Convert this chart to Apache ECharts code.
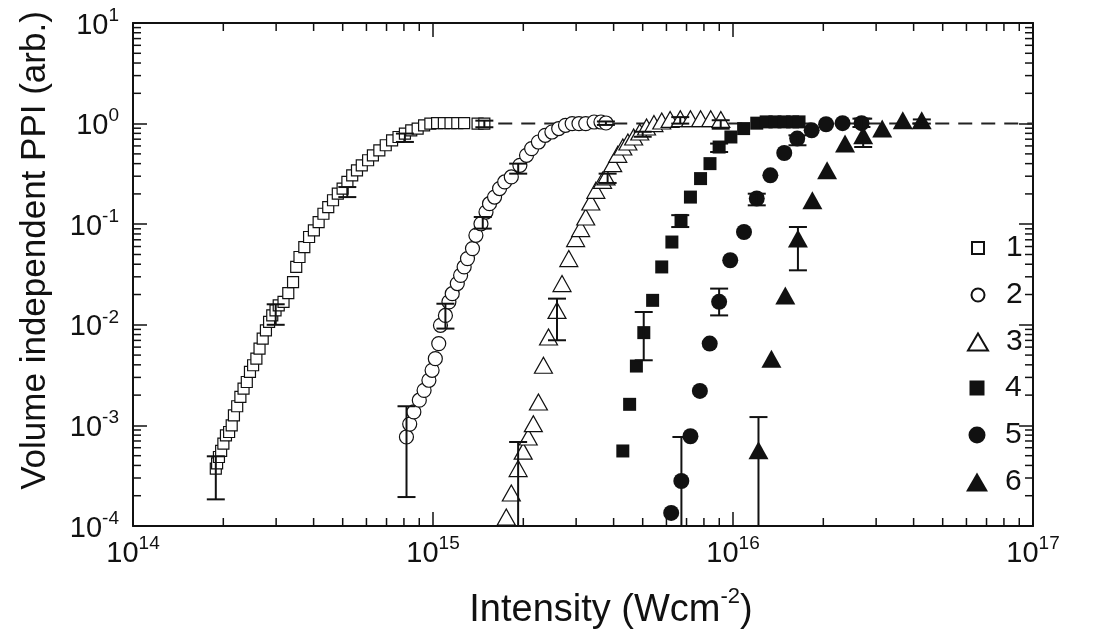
<!DOCTYPE html>
<html>
<head>
<meta charset="utf-8">
<script src="https://cdn.jsdelivr.net/npm/echarts@6/dist/echarts.min.js"></script>
<style>html,body{margin:0;padding:0;background:#fff;}#c{width:1102px;height:634px;}</style>
</head>
<body>
<div id="c"></div>
<script>
// ---- data (Intensity in W/cm^2, PPI in arb. units) ----
const names = ['1', '2', '3', '4', '5', '6'];

const series1 = [[1.888e14,3.72e-4],[1.907e14,4.20e-4],[1.934e14,4.85e-4],[1.967e14,5.57e-4],[2.001e14,6.59e-4],[2.041e14,7.97e-4],[2.091e14,8.60e-4],[2.133e14,1.00e-3],[2.170e14,1.26e-3],[2.225e14,1.55e-3],[2.280e14,1.92e-3],[2.336e14,2.32e-3],[2.395e14,2.70e-3],[2.454e14,3.40e-3],[2.514e14,3.96e-3],[2.578e14,4.61e-3],[2.641e14,5.80e-3],[2.706e14,7.29e-3],[2.774e14,8.82e-3],[2.842e14,1.07e-2],[2.912e14,1.24e-2],[2.986e14,1.39e-2],[3.060e14,1.56e-2],[3.175e14,1.69e-2],[3.293e14,2.06e-2],[3.416e14,2.66e-2],[3.500e14,3.76e-2],[3.589e14,4.72e-2],[3.724e14,5.93e-2],[3.863e14,7.46e-2],[4.008e14,8.70e-2],[4.157e14,0.105],[4.313e14,0.127],[4.475e14,0.148],[4.642e14,0.173],[4.816e14,0.201],[4.997e14,0.226],[5.184e14,0.263],[5.379e14,0.306],[5.580e14,0.343],[5.789e14,0.385],[6.077e14,0.432],[6.305e14,0.484],[6.624e14,0.543],[6.958e14,0.609],[7.305e14,0.682],[7.674e14,0.736],[8.061e14,0.796],[8.462e14,0.858],[8.889e14,0.892],[9.339e14,0.962],[9.80e14,1.0],[1.032e15,1.01],[1.087e15,1.01],[1.144e15,1.01],[1.205e15,1.01],[1.270e15,1.01],[1.408e15,1.0],[1.483e15,1.0]];

const series2 = [[8.156e14,7.67e-4],[8.363e14,1.03e-3],[8.632e14,1.36e-3],[9.002e14,1.78e-3],[9.339e14,2.23e-3],[9.69e14,2.81e-3],[9.93e14,3.53e-3],[1.018e15,4.61e-3],[1.045e15,6.50e-3],[1.059e15,9.89e-3],[1.100e15,1.24e-2],[1.130e15,1.69e-2],[1.159e15,2.04e-2],[1.205e15,2.57e-2],[1.236e15,3.10e-2],[1.270e15,3.76e-2],[1.303e15,4.55e-2],[1.354e15,5.72e-2],[1.390e15,7.76e-2],[1.445e15,0.101],[1.502e15,0.132],[1.543e15,0.160],[1.604e15,0.186],[1.667e15,0.226],[1.734e15,0.263],[1.824e15,0.295],[1.948e15,0.385],[2.050e15,0.484],[2.132e15,0.564],[2.246e15,0.656],[2.366e15,0.765],[2.491e15,0.825],[2.624e15,0.892],[2.764e15,0.962],[2.910e15,1.0],[3.066e15,1.0],[3.229e15,1.0],[3.444e15,1.037],[3.630e15,1.037],[3.773e15,1.014]];

const series3 = [[1.755e15,1.23e-4],[1.824e15,2.13e-4],[1.922e15,3.72e-4],[1.998e15,5.55e-4],[2.077e15,7.67e-4],[2.160e15,1.04e-3],[2.246e15,1.71e-3],[2.334e15,3.96e-3],[2.427e15,7.57e-3],[2.590e15,1.39e-2],[2.692e15,2.57e-2],[2.836e15,4.55e-2],[2.988e15,7.19e-2],[3.106e15,9.04e-2],[3.229e15,0.118],[3.357e15,0.166],[3.490e15,0.217],[3.674e15,0.273],[3.773e15,0.295],[3.972e15,0.400],[4.129e15,0.495],[4.293e15,0.585],[4.463e15,0.656],[4.665e15,0.736],[4.889e15,0.825],[5.150e15,0.925],[5.451e15,1.0],[5.787e15,1.06],[6.172e15,1.10],[6.674e15,1.12],[7.213e15,1.12],[7.796e15,1.12],[8.427e15,1.12],[9.108e15,1.10]];

const series4 = [[4.293e15,5.57e-4],[4.523e15,1.62e-3],[4.764e15,3.89e-3],[5.043e15,8.36e-3],[5.396e15,1.75e-2],[5.787e15,3.76e-2],[6.256e15,6.65e-2],[6.710e15,0.109],[7.213e15,0.186],[7.796e15,0.284],[8.381e15,0.400],[8.990e15,0.585],[9.84e15,0.736],[1.085e16,0.892],[1.200e16,1.01],[1.29e16,1.04],[1.38e16,1.04],[1.48e16,1.04],[1.58e16,1.04],[1.66e16,1.04]];

const series5 = [[6.222e15,1.35e-4],[6.726e15,2.80e-4],[7.213e15,7.80e-4],[7.755e15,2.20e-3],[8.363e15,6.50e-3],[8.990e15,1.69e-2],[9.79e15,4.38e-2],[1.088e16,8.36e-2],[1.200e16,0.180],[1.332e16,0.306],[1.482e16,0.510],[1.637e16,0.709],[1.829e16,0.858],[2.043e16,0.985],[2.319e16,1.01],[2.683e16,1.01]];

const series6 = [[1.216e16,5.65e-4],[1.343e16,4.61e-3],[1.494e16,1.96e-2],[1.646e16,7.19e-2],[1.839e16,0.173],[2.059e16,0.343],[2.363e16,0.633],[2.716e16,0.765],[3.143e16,0.892],[3.681e16,1.08],[4.256e16,1.08]];

// error bars: [intensity, low, high]
const errors1 = [[1.888e14,1.84e-4,4.93e-4],[2.99e14,1.0e-2,1.6e-2],[5.18e14,0.186,0.234],[8.06e14,0.657,0.796],[1.483e15,0.92,1.07]];
const errors2 = [[8.16e14,1.94e-4,1.55e-3],[1.10e15,9.17e-3,1.62e-2],[1.465e15,0.0904,0.118],[1.923e15,0.318,0.40],[3.77e15,0.97,1.05]];
const errors3 = [[1.922e15,1e-4,6.84e-4],[2.59e15,7.02e-3,1.82e-2],[3.82e15,0.257,0.318],[5.0e15,0.74,0.83],[6.67e15,1.0,1.16],[9.1e15,0.89,1.08]];
const errors4 = [[5.04e15,4.44e-3,1.34e-2],[6.67e15,0.0937,0.123],[8.99e15,0.522,0.633]];
const errors5 = [[6.73e15,1e-4,7.67e-4],[8.99e15,1.24e-2,2.29e-2],[1.2e16,0.154,0.201],[1.64e16,0.609,0.765],[2.68e16,0.925,1.12]];
const errors6 = [[1.216e16,1e-4,1.21e-3],[1.646e16,3.48e-2,9.38e-2],[2.716e16,0.585,1.12],[4.26e16,1.0,1.1]];

// saturation reference (dashed) line
const saturationLine = [[1.65e15,1],[1e17,1]];

// axis ranges
const xRange = [1e14, 1e17];
const yRange = [1e-4, 1e1];

// ---- styles ----
const symbols = ['rect','circle','triangle','rect','circle','triangle'];
const symbolSizes = [11, 14, [18,16], 13, 16, [20,18]];
const hollow = [true, true, true, false, false, false];
const legendSizes = [[12,12], [13,13], [20,17], [15,15], [17,17], [22,19]];
const legendRows = [248, 295, 342, 388, 435, 482];
const allData = [series1, series2, series3, series4, series5, series6];
const allErrors = [errors1, errors2, errors3, errors4, errors5, errors6];

const FONT = '"Liberation Sans", Arial, Helvetica, sans-serif';
const INK = '#111';

function expLabel(v) {
  const e = Math.round(Math.log10(v));
  return '{b|10}{s|' + e + '}';
}
const labelRich = {
  b: {fontSize: 29, lineHeight: 34, verticalAlign: 'bottom', color: INK, fontFamily: FONT},
  s: {fontSize: 19, lineHeight: 34, verticalAlign: 'top', color: INK, fontFamily: FONT}
};

// minor tick values 2..9 x 10^n
const minorTicks = [];
for (let n = 14; n < 17; n++) for (let m = 2; m <= 9; m++) minorTicks.push([m * Math.pow(10, n), 1, 0]);
for (let n = -4; n < 1; n++) for (let m = 2; m <= 9; m++) minorTicks.push([1e15, m * Math.pow(10, n), 1]);

function renderMinor(params, api) {
  const t = api.value(2);
  const L = 8;
  const st = {stroke: INK, lineWidth: 1.5};
  if (t === 0) {
    const v = api.value(0);
    const b = api.coord([v, yRange[0]]);
    const tp = api.coord([v, yRange[1]]);
    return {type: 'group', children: [
      {type: 'line', shape: {x1: b[0], y1: b[1], x2: b[0], y2: b[1] - L}, style: st},
      {type: 'line', shape: {x1: tp[0], y1: tp[1], x2: tp[0], y2: tp[1] + L}, style: st}
    ]};
  } else {
    const v = api.value(1);
    const l = api.coord([xRange[0], v]);
    const r = api.coord([xRange[1], v]);
    return {type: 'group', children: [
      {type: 'line', shape: {x1: l[0], y1: l[1], x2: l[0] + L, y2: l[1]}, style: st},
      {type: 'line', shape: {x1: r[0], y1: r[1], x2: r[0] - L, y2: r[1]}, style: st}
    ]};
  }
}

function renderErr(params, api) {
  const x = api.value(0), lo = api.value(1), hi = api.value(2);
  const pl = api.coord([x, lo]);
  const ph = api.coord([x, hi]);
  const hw = 9;
  const st = {stroke: INK, lineWidth: 2};
  const ch = [
    {type: 'line', shape: {x1: pl[0], y1: pl[1], x2: ph[0], y2: ph[1]}, style: st},
    {type: 'line', shape: {x1: ph[0] - hw, y1: ph[1], x2: ph[0] + hw, y2: ph[1]}, style: st}
  ];
  if (lo > yRange[0]) ch.push({type: 'line', shape: {x1: pl[0] - hw, y1: pl[1], x2: pl[0] + hw, y2: pl[1]}, style: st});
  return {type: 'group', children: ch};
}

const axisLineStyle = {lineStyle: {color: INK, width: 2}};
const majorTick = {show: true, inside: true, length: 14, lineStyle: {color: INK, width: 1.5}};

const series = [];
series.push({
  type: 'line', data: saturationLine, symbol: 'none', silent: true, z: 1,
  lineStyle: {color: '#222', width: 2, type: [14, 9]}, animation: false
});
allData.forEach((d, i) => {
  series.push({
    name: names[i], type: 'scatter', data: d, symbol: symbols[i], symbolSize: symbolSizes[i], z: 3,
    itemStyle: hollow[i] ? {color: '#fff', borderColor: INK, borderWidth: 1.2, opacity: 1}
                         : {color: INK, borderColor: INK, borderWidth: 0, opacity: 1},
    emphasis: {disabled: true}
  });
});
series.push({
  type: 'custom', renderItem: renderErr, data: [].concat(...allErrors), z: 4, silent: true,
  encode: {x: 0, y: [1, 2]}, clip: true
});
series.push({
  type: 'custom', renderItem: renderMinor, data: minorTicks, z: 5, silent: true,
  encode: {x: 0, y: 1}, clip: false
});

const legends = names.map((n, i) => {
  const w = legendSizes[i][0], h = legendSizes[i][1];
  return {
    data: [n], left: 977 - w / 2, top: legendRows[i] - 17, orient: 'vertical',
    itemWidth: w, itemHeight: h, padding: 0, selectedMode: false,
    textStyle: {fontSize: 30, lineHeight: 34, color: INK, fontFamily: FONT,
                padding: [0, 0, 0, 1005 - (977 + w / 2 + 5)]}
  };
});

const option = {
  animation: false,
  backgroundColor: '#fff',
  textStyle: {fontFamily: FONT},
  grid: {left: 133, right: 69, top: 23, bottom: 108, containLabel: false, outerBoundsMode: 'none'},
  legend: legends,
  xAxis: [{
    type: 'log', logBase: 10, min: xRange[0], max: xRange[1], position: 'bottom',
    axisLine: axisLineStyle, axisTick: majorTick, splitLine: {show: false}, minorTick: {show: false},
    axisLabel: {formatter: expLabel, rich: labelRich, margin: 8, color: INK},
    name: '{t|Intensity (Wcm}{s|-2}{t|)}', nameLocation: 'middle', nameGap: 60,
    nameTextStyle: {padding: [0, 0, 0, 56], rich: {
      t: {fontSize: 38, lineHeight: 44, verticalAlign: 'bottom', color: INK, fontFamily: FONT},
      s: {fontSize: 22, lineHeight: 44, verticalAlign: 'top', color: INK, fontFamily: FONT}
    }}
  }, {
    type: 'log', logBase: 10, min: xRange[0], max: xRange[1], position: 'top',
    axisLine: axisLineStyle, axisTick: majorTick, splitLine: {show: false}, axisLabel: {show: false}
  }],
  yAxis: [{
    type: 'log', logBase: 10, min: yRange[0], max: yRange[1], position: 'left',
    axisLine: axisLineStyle, axisTick: majorTick, splitLine: {show: false}, minorTick: {show: false},
    axisLabel: {formatter: expLabel, rich: labelRich, margin: 14, color: INK},
    name: 'Volume independent PPI (arb.)', nameLocation: 'middle', nameGap: 80,
    nameTextStyle: {fontSize: 35, color: INK, fontFamily: FONT, padding: [0, 0, 0, 48]}
  }, {
    type: 'log', logBase: 10, min: yRange[0], max: yRange[1], position: 'right',
    axisLine: axisLineStyle, axisTick: majorTick, splitLine: {show: false}, axisLabel: {show: false}
  }],
  series: series
};

const chart = echarts.init(document.getElementById('c'), null, {renderer: 'canvas'});
chart.setOption(option);
</script>
</body>
</html>
